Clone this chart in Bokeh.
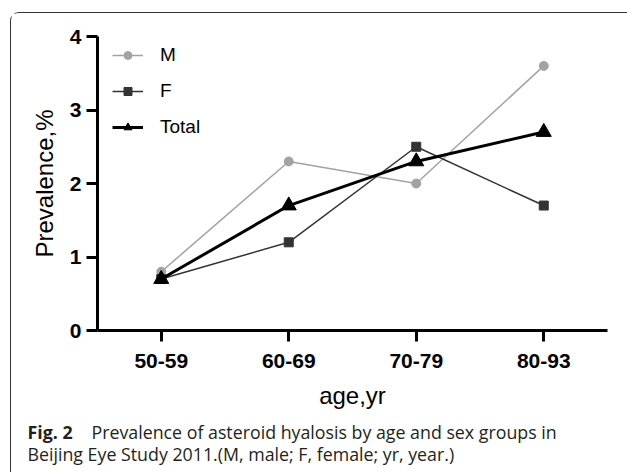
from bokeh.plotting import figure
from bokeh.layouts import column
from bokeh.models import (FactorRange, Range1d, FixedTicker, Legend, LegendItem, Label)
from bokeh.embed import file_html
from bokeh.resources import INLINE

ages = ["50-59", "60-69", "70-79", "80-93"]
male = [0.8, 2.3, 2.0, 3.6]
female = [0.7, 1.2, 2.5, 1.7]
total = [0.7, 1.7, 2.3, 2.7]
y_ticks = [0, 1, 2, 3, 4]
caption_bold = "Fig. 2"
caption_line1 = "Prevalence of asteroid hyalosis by age and sex groups in"
caption_line2 = "Beijing Eye Study 2011.(M, male; F, female; yr, year.)"

FONT = "Liberation Sans"

p = figure(x_range=FactorRange(*ages), y_range=Range1d(0, 4),
           width=617, height=404, output_backend="svg", toolbar_location=None,
           min_border_left=86, min_border_right=21, min_border_top=23,
           min_border_bottom=87)
p.outline_line_color = None
p.xgrid.visible = False
p.ygrid.visible = False
p.background_fill_color = "white"
p.border_fill_color = "white"

for ax in (p.xaxis[0], p.yaxis[0]):
    ax.axis_line_width = 3
    ax.axis_line_color = "black"
    ax.major_tick_line_width = 3
    ax.major_tick_line_color = "black"
    ax.major_tick_out = 11
    ax.major_tick_in = 0
    ax.minor_tick_line_color = None
    ax.major_label_text_font = FONT
    ax.major_label_text_font_style = "bold"
    ax.major_label_text_font_size = "21px"
    ax.major_label_text_color = "black"
    ax.axis_label_text_font = FONT
    ax.axis_label_text_font_style = "normal"
    ax.axis_label_text_color = "black"

p.yaxis.ticker = FixedTicker(ticks=y_ticks)
p.yaxis.major_label_standoff = 5
p.yaxis.axis_label = "Prevalence,%"
p.yaxis.axis_label_text_font_size = "24px"
p.yaxis.axis_label_standoff = 9
p.xaxis.major_label_standoff = 12
p.xaxis.axis_label = "age,yr"
p.xaxis.axis_label_text_font_size = "24px"
p.xaxis.axis_label_standoff = 11

gm = "#a3a3a3"
gf = "#333333"
rm_l = p.line(ages, male, line_color=gm, line_width=1.5)
rm_m = p.scatter(ages, male, marker="circle", size=9, fill_color=gm, line_color=gm)
rf_l = p.line(ages, female, line_color=gf, line_width=1.5)
rf_m = p.scatter(ages, female, marker="square", size=9, fill_color=gf, line_color=gf)
rt_l = p.line(ages, total, line_color="black", line_width=3)
rt_m = p.scatter(ages, total, marker="triangle", size=15, fill_color="black", line_color="black")

legend = Legend(items=[
    LegendItem(label="M", renderers=[rm_l, rm_m]),
    LegendItem(label="F", renderers=[rf_l, rf_m]),
    LegendItem(label="Total", renderers=[rt_l, rt_m]),
], location=(15, 192))
legend.glyph_width = 31
legend.glyph_height = 20
legend.label_height = 20
legend.label_standoff = 17
legend.spacing = 14
legend.padding = 0
legend.margin = 0
legend.border_line_color = None
legend.background_fill_alpha = 0
legend.label_text_font = FONT
legend.label_text_font_size = "19px"
legend.label_text_color = "black"
p.add_layout(legend)

# caption strip
cap = figure(width=617, height=56, output_backend="svg", toolbar_location=None,
             x_range=Range1d(0, 1), y_range=Range1d(0, 1),
             x_axis_location=None, y_axis_location=None,
             min_border_left=0, min_border_right=0, min_border_top=0,
             min_border_bottom=0)
cap.grid.visible = False
cap.outline_line_color = None
cap.background_fill_color = "white"
cap.border_fill_color = "white"
for fig in (p, cap):
    try:
        fig.frame_align = False
    except Exception:
        pass

CAP = "Open Sans"
CAPCOL = "#231f20"
CAPSIZE = "17.8px"
cap.add_layout(Label(x=16, y=14, x_units="canvas", y_units="canvas", text=caption_bold,
                     text_font=CAP, text_font_style="bold", text_font_size=CAPSIZE,
                     text_color=CAPCOL, text_baseline="alphabetic"))
cap.add_layout(Label(x=80, y=14, x_units="canvas", y_units="canvas", text=caption_line1,
                     text_font=CAP, text_font_size=CAPSIZE,
                     text_color=CAPCOL, text_baseline="alphabetic"))
cap.add_layout(Label(x=16, y=36, x_units="canvas", y_units="canvas", text=caption_line2,
                     text_font=CAP, text_font_size=CAPSIZE,
                     text_color=CAPCOL, text_baseline="alphabetic"))

layout = column(p, cap, spacing=0)
layout.margin = (12, 0, 0, 10)
layout.styles = {"border-top": "1.2px solid #333333", "border-left": "1.2px solid #333333",
                 "border-top-left-radius": "9px"}

open("out.html", "w").write(file_html(layout, INLINE))
